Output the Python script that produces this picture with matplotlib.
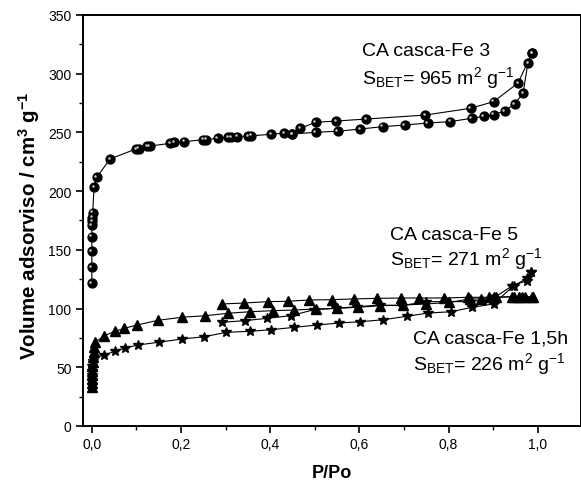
import matplotlib
matplotlib.use("Agg")
import matplotlib.pyplot as plt
import matplotlib.transforms as mtransforms
from matplotlib.ticker import FuncFormatter, MultipleLocator

plt.rcParams['font.family'] = ['Liberation Sans', 'DejaVu Sans']
plt.rcParams['mathtext.fontset'] = 'custom'
plt.rcParams['mathtext.rm'] = 'Liberation Sans'
plt.rcParams['mathtext.it'] = 'Liberation Sans:italic'
plt.rcParams['mathtext.bf'] = 'Liberation Sans:bold'

# CA casca-Fe 3 (spheres)
fe3_ads_x = [0.0, 0.0, 0.0, 0.0, 0.0, 0.001, 0.001, 0.002, 0.005, 0.011, 0.041, 0.099, 0.105,
             0.124, 0.13, 0.176, 0.185, 0.207, 0.25, 0.257, 0.282, 0.306, 0.312, 0.326, 0.35,
             0.357, 0.402, 0.432, 0.45, 0.502, 0.551, 0.602, 0.652, 0.702, 0.753, 0.803,
             0.852, 0.879, 0.901, 0.926, 0.948, 0.967, 0.978, 0.987]
fe3_ads_y = [121.8, 135.4, 148.8, 161.1, 171.0, 174.6, 177.5, 181.7, 203.3, 211.8, 227.4, 235.9,
             236.2, 238.2, 238.4, 240.7, 241.6, 242.1, 243.8, 243.9, 245.0, 245.9, 246.0, 246.4,
             247.0, 247.1, 248.4, 249.5, 248.7, 250.1, 251.0, 252.9, 254.9, 256.3, 258.0, 259.2,
             262.0, 263.7, 265.1, 268.3, 274.2, 283.3, 309.1, 317.6]
fe3_des_x = [0.987, 0.956, 0.901, 0.85, 0.748, 0.615, 0.548, 0.502, 0.467, 0.45]
fe3_des_y = [317.6, 292.1, 276.2, 270.6, 264.8, 261.4, 259.7, 258.6, 253.5, 248.7]

# CA casca-Fe 5 (triangles)
fe5_ads_x = [0.0, 0.0, 0.0, 0.0, 0.0, 0.001, 0.002, 0.003, 0.004, 0.006, 0.008, 0.028, 0.052,
             0.073, 0.102, 0.148, 0.202, 0.254, 0.306, 0.355, 0.406, 0.454, 0.502, 0.55, 0.598,
             0.646, 0.698, 0.75, 0.802, 0.847, 0.872, 0.891, 0.906, 0.946, 0.958, 0.972, 0.987]
fe5_ads_y = [33.0, 36.6, 40.0, 43.4, 47.1, 50.8, 54.2, 58.5, 62.8, 67.0, 71.3, 76.9, 80.6,
             83.2, 86.0, 90.0, 92.6, 93.9, 96.0, 97.3, 98.2, 98.8, 99.6, 100.2, 101.1,
             102.4, 103.0, 103.9, 105.3, 108.2, 108.2, 109.6, 109.6, 110.1, 110.1, 110.1, 110.1]
fe5_des_x = [0.99, 0.964, 0.943, 0.901, 0.844, 0.79, 0.734, 0.694, 0.639, 0.588, 0.539, 0.487,
             0.44, 0.395, 0.341, 0.291]
fe5_des_y = [109.6, 110.1, 110.1, 109.6, 109.6, 109.0, 109.0, 109.0, 108.7, 108.2, 107.6, 107.3,
             106.2, 105.9, 104.7, 103.9]

# CA casca-Fe 1,5h (stars)
fe15_ads_x = [0.0, 0.0, 0.0, 0.0, 0.001, 0.002, 0.004, 0.028, 0.052, 0.074, 0.104, 0.15, 0.202,
              0.252, 0.302, 0.354, 0.402, 0.454, 0.506, 0.554, 0.602, 0.654, 0.706, 0.754,
              0.806, 0.853, 0.901, 0.946, 0.977, 0.985]
fe15_ads_y = [35.0, 39.0, 43.0, 47.0, 51.0, 55.0, 58.0, 60.5, 63.6, 66.4, 69.0, 71.3, 74.1,
              76.0, 79.8, 80.6, 82.0, 84.0, 86.0, 87.7, 88.8, 90.5, 93.4, 96.2,
              97.3, 101.1, 103.9, 119.5, 125.8, 130.9]
fe15_des_x = [0.985, 0.976, 0.943, 0.898, 0.847, 0.75, 0.695, 0.646, 0.595, 0.547, 0.498,
              0.446, 0.393, 0.343, 0.291]
fe15_des_y = [130.9, 123.8, 119.5, 108.2, 105.9, 105.9, 102.5, 103.0, 101.6, 100.2, 99.0,
              93.9, 91.7, 89.7, 88.3]

fig = plt.figure(figsize=(5.81, 4.89), dpi=100)
ax = fig.add_axes([0.1423, 0.1268, 0.8577, 0.8405])

lw = 0.8
# spheres with a small highlight
for xs, ys in [(fe3_ads_x, fe3_ads_y), (fe3_des_x, fe3_des_y)]:
    ax.plot(xs, ys, '-', color='black', lw=lw, marker='o', markersize=6.4,
            markerfacecolor='black', markeredgecolor='black', zorder=3)
    hl = mtransforms.offset_copy(ax.transData, fig=fig, x=-1.0, y=1.0, units='points')
    ax.plot(xs, ys, linestyle='none', marker='o', markersize=1.8, color='#c8c8c8',
            markeredgewidth=0, transform=hl, zorder=4)

for xs, ys in [(fe5_ads_x, fe5_ads_y), (fe5_des_x, fe5_des_y)]:
    ax.plot(xs, ys, '-', color='black', lw=lw, marker='^', markersize=6.5, zorder=3)

for xs, ys in [(fe15_ads_x, fe15_ads_y), (fe15_des_x, fe15_des_y)]:
    ax.plot(xs, ys, '-', color='black', lw=lw, marker='*', markersize=7.5, zorder=3)

ax.set_xlim(-0.0205, 1.097)
ax.set_ylim(0, 350)

ax.xaxis.set_major_locator(MultipleLocator(0.2))
ax.xaxis.set_minor_locator(MultipleLocator(0.1))
ax.yaxis.set_major_locator(MultipleLocator(50))
ax.yaxis.set_minor_locator(MultipleLocator(25))
ax.xaxis.set_major_formatter(FuncFormatter(lambda v, p: f"{v:.1f}".replace('.', ',')))
ax.tick_params(which='major', direction='out', length=5, width=1.2, labelsize=10, pad=3)
ax.tick_params(which='minor', direction='out', length=3, width=1.0)
ax.tick_params(top=False, right=False)
for s in ax.spines.values():
    s.set_linewidth(1.4)

ax.set_xlabel('P/Po', fontsize=13, fontweight='bold', labelpad=9)
ax.set_ylabel(r'Volume adsorviso / cm$^\mathbf{3}$ g$^\mathbf{-1}$', fontsize=14.8,
              fontweight='bold')
ax.yaxis.set_label_coords(-0.082, 0.489)

fs = 14
ax.text(0.605, 316, 'CA casca-Fe 3', fontsize=fs, va='baseline')
ax.text(0.605, 292, r'S$_{\mathrm{BET}}$= 965 m$^{2}$ g$^{-1}$', fontsize=fs, va='baseline')
ax.text(0.668, 159, 'CA casca-Fe 5', fontsize=fs, va='baseline')
ax.text(0.668, 138, r'S$_{\mathrm{BET}}$= 271 m$^{2}$ g$^{-1}$', fontsize=fs, va='baseline')
ax.text(0.72, 71.5, 'CA casca-Fe 1,5h', fontsize=fs, va='baseline')
ax.text(0.72, 48.5, r'S$_{\mathrm{BET}}$= 226 m$^{2}$ g$^{-1}$', fontsize=fs, va='baseline')

fig.savefig('out.png', dpi=100)
